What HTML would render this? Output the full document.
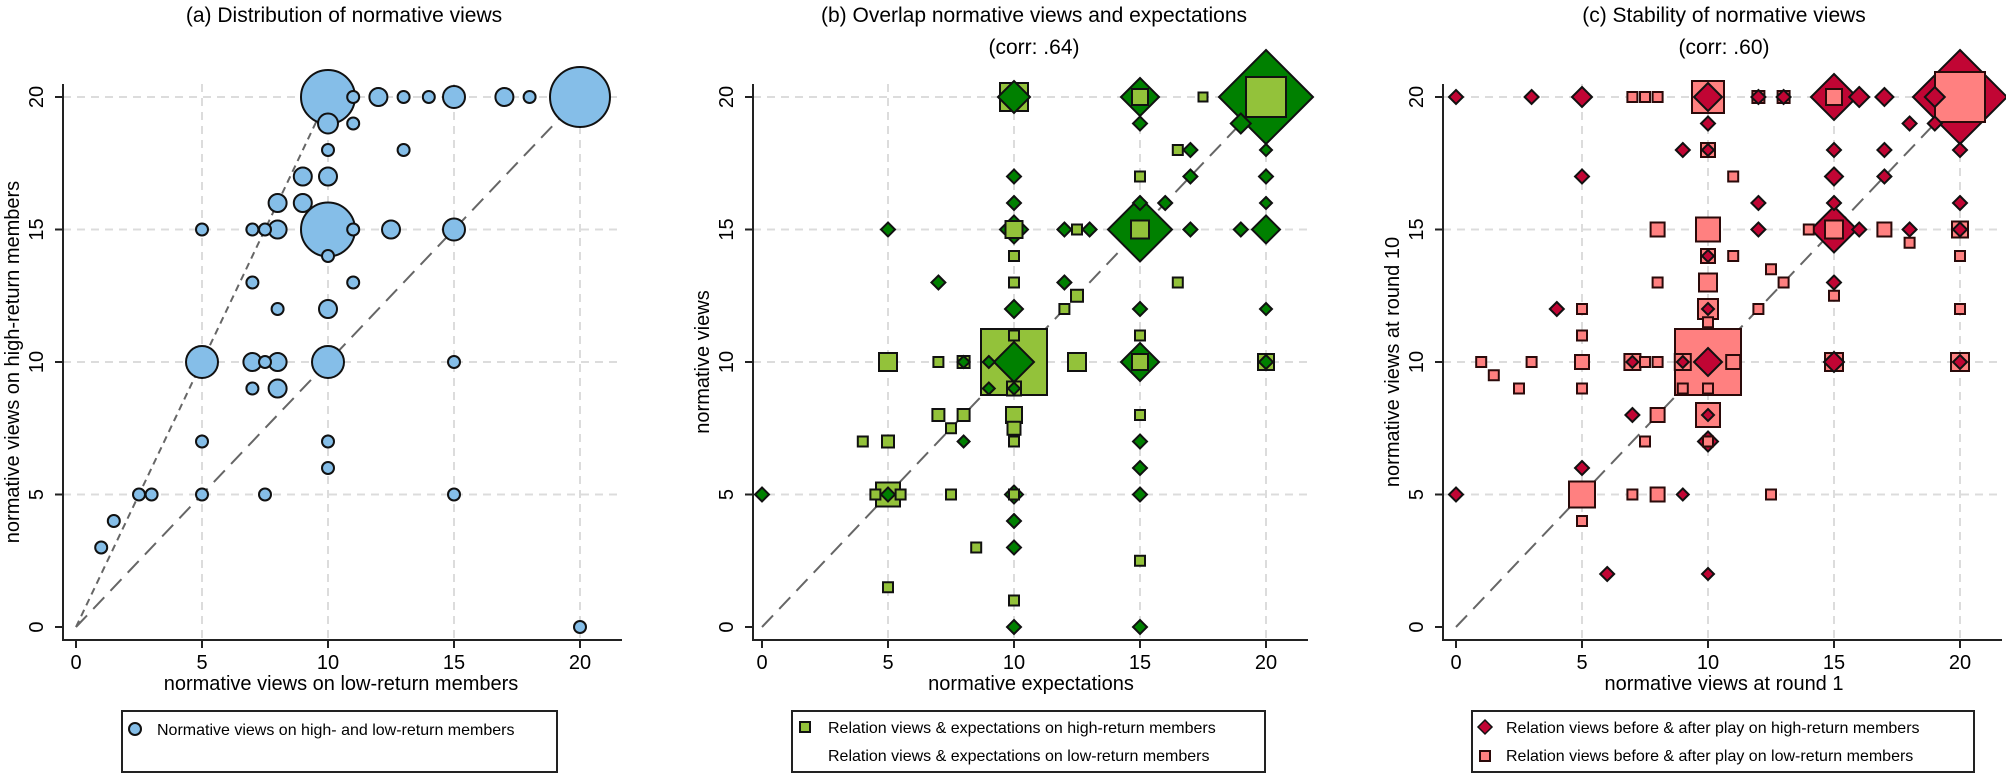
<!DOCTYPE html>
<html><head><meta charset="utf-8"><style>
html,body{margin:0;padding:0;background:#fff;}
svg{display:block;font-family:"Liberation Sans",Arial,sans-serif;}
</style></head><body>
<svg id="s" width="2006" height="774" viewBox="0 0 2006 774" xmlns="http://www.w3.org/2000/svg">
<rect width="2006" height="774" fill="#fff"/>
<g id="bg"></g>
<g id="mk"></g>
<g id="ax" stroke="#222" stroke-width="2" fill="none"></g>
<g font-size="21" text-anchor="middle" fill="#000">
<text x="344" y="22">(a) Distribution of normative views</text>
<text x="1034" y="22">(b) Overlap normative views and expectations</text>
<text x="1034" y="54">(corr: .64)</text>
<text x="1724" y="22">(c) Stability of normative views</text>
<text x="1724" y="54">(corr: .60)</text>
</g>
<g font-size="20" text-anchor="middle" fill="#000">
<text x="341" y="690">normative views on low-return members</text>
<text x="1031" y="690">normative expectations</text>
<text x="1724" y="690">normative views at round 1</text>
<text transform="translate(19,362) rotate(-90)">normative views on high-return members</text>
<text transform="translate(709,362) rotate(-90)">normative views</text>
<text transform="translate(1399,362) rotate(-90)">normative views at round 10</text>
</g>
<g id="tl" font-size="20" text-anchor="middle" fill="#000"></g>
<g stroke="#222" stroke-width="2" fill="#fff">
<rect x="122" y="711" width="435" height="61"/>
<rect x="792" y="711" width="473" height="61"/>
<rect x="1472" y="711" width="502" height="61"/>
</g>
<g font-size="16" fill="#000">
<text x="157" y="735">Normative views on high- and low-return members</text>
<text x="828" y="733">Relation views &amp; expectations on high-return members</text>
<text x="828" y="761">Relation views &amp; expectations on low-return members</text>
<text x="1506" y="733">Relation views before &amp; after play on high-return members</text>
<text x="1506" y="761">Relation views before &amp; after play on low-return members</text>
</g>
<circle cx="135" cy="729" r="6" fill="#85bee8" stroke="#111" stroke-width="2"/>
<rect x="800" y="722" width="10" height="10" fill="#93c23a" stroke="#111" stroke-width="2"/>
<polygon points="1485,720 1492,727 1485,734 1478,727" fill="#c10534" stroke="#111" stroke-width="1.5"/>
<rect x="1480" y="751" width="10" height="10" fill="#ff8080" stroke="#2a0a0a" stroke-width="2"/>
</svg>
<script>
var NS="http://www.w3.org/2000/svg";
function el(p,t,a){var e=document.createElementNS(NS,t);for(var k in a)e.setAttribute(k,a[k]);p.appendChild(e);return e;}
var bg=document.getElementById('bg'),mk=document.getElementById('mk'),ax=document.getElementById('ax'),tl=document.getElementById('tl');
var X0=[76,762,1456],AXL=[63,753,1443];
var UX=25.2,UY=26.5,Y0=627,TOP=84,BOT=640;
function px(p,x){return X0[p]+x*UX;} function py(y){return Y0-y*UY;}
for(var p=0;p<3;p++){
 var R=X0[p]+546;
 for(var v=5;v<=20;v+=5){
  el(bg,'line',{x1:AXL[p],x2:R,y1:py(v),y2:py(v),stroke:'#dcdcdc','stroke-width':2,'stroke-dasharray':'8 6'});
  el(bg,'line',{x1:px(p,v),x2:px(p,v),y1:TOP,y2:BOT,stroke:'#dcdcdc','stroke-width':2,'stroke-dasharray':'8 6'});
 }
 el(bg,'line',{x1:px(p,0),y1:py(0),x2:px(p,20),y2:py(20),stroke:'#666','stroke-width':2,'stroke-dasharray':'16 9'});
 if(p==0) el(bg,'line',{x1:px(0,0),y1:py(0),x2:px(0,10),y2:py(20),stroke:'#666','stroke-width':2,'stroke-dasharray':'7 5'});
 el(ax,'line',{x1:AXL[p],y1:TOP,x2:AXL[p],y2:BOT+1});
 el(ax,'line',{x1:AXL[p]-1,y1:BOT,x2:R,y2:BOT});
 for(var v=0;v<=20;v+=5){
  el(ax,'line',{x1:AXL[p]-8,x2:AXL[p],y1:py(v),y2:py(v)});
  el(ax,'line',{x1:px(p,v),x2:px(p,v),y1:BOT,y2:BOT+8});
  var t=el(tl,'text',{x:px(p,v),y:669});t.textContent=v;
  var t2=el(tl,'text',{transform:'translate('+(AXL[p]-20)+','+py(v)+') rotate(-90)'});t2.textContent=v;
 }
}
var A=[[10,20,27],[11,20,6],[12,20,9],[13,20,6],[14,20,6],[15,20,11],[17,20,9],[18,20,6],[20,20,30],
[10,19,10],[11,19,6],[10,18,6],[13,18,6],[9,17,9],[10,17,9],[8,16,9],[9,16,9],
[5,15,6],[7,15,6],[7.5,15,6],[8,15,9],[10,15,27],[11,15,6],[12.5,15,9],[15,15,11],[10,14,6],[7,13,6],[11,13,6],
[8,12,6],[10,12,9],[5,10,16],[7,10,9],[7.5,10,6],[8,10,9],[10,10,16],[15,10,6],[7,9,6],[8,9,9],
[5,7,6],[10,7,6],[10,6,6],[2.5,5,6],[3,5,6],[5,5,6],[7.5,5,6],[15,5,6],[1.5,4,6],[1,3,6],[20,0,6]];
A.sort(function(a,b){return b[2]-a[2];});
A.forEach(function(d){el(mk,'circle',{cx:px(0,d[0]),cy:py(d[1]),r:d[2],fill:'#85bee8',stroke:'#111','stroke-width':2});});
var B=[[10,20,14,'S'],[10,20,16,'D'],[15,20,19,'D'],[15,20,8,'S'],[17.5,20,4.5,'S'],[20,20,47,'D'],[20,20,20,'S'],[19,19,10,'D'],
[15,19,7,'D'],[20,18,6,'D'],[16.5,18,5,'S'],[17,18,7,'D'],[10,17,7,'D'],[15,17,5,'S'],[17,17,7,'D'],[20,17,7,'D'],
[10,16,7,'D'],[15,16,7,'D'],[16,16,7,'D'],[20,16,6,'D'],
[5,15,7,'D'],[10,15,14,'D'],[10,15,8.5,'S'],[12,15,7,'D'],[12.5,15,5,'S'],[13,15,7,'D'],[15,15,32,'D'],[15,15,9,'S'],[17,15,7,'D'],[19,15,7,'D'],[20,15,14,'D'],
[10,14,5,'S'],[7,13,7,'D'],[10,13,5,'S'],[12,13,7,'D'],[16.5,13,5,'S'],[12.5,12.5,6,'S'],[10,12,9,'D'],[12,12,5,'S'],[15,12,7,'D'],[20,12,6,'D'],
[10,11,5,'S'],[15,11,5,'S'],
[5,10,9,'S'],[7,10,5,'S'],[8,10,6,'S'],[8,10,6,'D'],[9,10,6,'D'],[10,10,33,'S'],[10,10,20,'D'],[12.5,10,9,'S'],[15,10,19,'D'],[15,10,8,'S'],[20,10,8,'S'],[20,10,7,'D'],
[9,9,6,'D'],[10,9,7,'S'],[10,9,6,'D'],[7,8,6,'S'],[8,8,6,'S'],[10,8,8,'S'],[15,8,5,'S'],[10,7.5,6.5,'S'],[7.5,7.5,5,'S'],
[4,7,5,'S'],[5,7,6,'S'],[8,7,6,'D'],[10,7,5,'S'],[15,7,7,'D'],[15,6,7,'D'],
[0,5,7,'D'],[5,5,12,'S'],[4.5,5,5,'S'],[5.5,5,5,'S'],[5,5,7,'D'],[7.5,5,5,'S'],[10,5,9,'D'],[10,5,5,'S'],[15,5,7,'D'],
[10,4,7,'D'],[10,3,7,'D'],[8.5,3,5,'S'],[15,2.5,5,'S'],[5,1.5,5,'S'],[10,1,5,'S'],[10,0,7,'D'],[15,0,7,'D']];
var C=[[0,20,7,'D'],[3,20,7,'D'],[5,20,10,'D'],[7,20,5,'S'],[7.5,20,5,'S'],[8,20,5,'S'],[10,20,16,'S'],[10,20,14,'D'],[12,20,6,'S'],[12,20,7,'D'],[13,20,6,'S'],[13,20,7,'D'],
[15,20,23,'D'],[15,20,8,'S'],[16,20,10,'D'],[17,20,9,'D'],[20,20,47,'D'],[20,20,25,'S'],[19,20,10,'D'],
[10,19,7,'D'],[18,19,7,'D'],[19,19,7,'D'],[9,18,7,'D'],[10,18,7,'S'],[10,18,6,'D'],[15,18,7,'D'],[17,18,7,'D'],[20,18,7,'D'],
[5,17,7,'D'],[11,17,5,'S'],[15,17,9,'D'],[17,17,7,'D'],[12,16,7,'D'],[15,16,7,'D'],[20,16,7,'D'],
[8,15,7,'S'],[10,15,12,'S'],[12,15,7,'D'],[14,15,5,'S'],[15,15,23,'D'],[15,15,9,'S'],[16,15,7,'D'],[17,15,7,'S'],[18,15,7,'D'],[20,15,8,'S'],[20,15,7,'D'],
[18,14.5,5,'S'],[10,14,7,'S'],[10,14,6,'D'],[11,14,5,'S'],[20,14,5,'S'],[12.5,13.5,5,'S'],[8,13,5,'S'],[10,13,9,'S'],[13,13,5,'S'],[15,13,7,'D'],[15,12.5,5,'S'],
[4,12,7,'D'],[5,12,5,'S'],[10,12,10,'S'],[10,12,6,'D'],[12,12,5,'S'],[20,12,5,'S'],[10,11.5,5,'S'],[5,11,5,'S'],
[1,10,5,'S'],[3,10,5,'S'],[5,10,7,'S'],[7,10,8,'S'],[7,10,6,'D'],[7.5,10,5,'S'],[8,10,5,'S'],[9,10,8,'S'],[9,10,6,'D'],[10,10,33,'S'],[10,10,14,'D'],[11,10,7,'S'],[15,10,9,'S'],[15,10,10,'D'],[20,10,9,'S'],[20,10,7,'D'],
[1.5,9.5,5,'S'],[2.5,9,5,'S'],[5,9,5,'S'],[9,9,5,'S'],[10,9,5,'S'],[7,8,7,'D'],[8,8,7,'S'],[10,8,12,'S'],[10,8,6,'D'],[7.5,7,5,'S'],[10,7,10,'D'],[10,7,5,'S'],
[5,6,7,'D'],[0,5,7,'D'],[5,5,13,'S'],[7,5,5,'S'],[8,5,7,'S'],[9,5,6,'D'],[12.5,5,5,'S'],[5,4,5,'S'],[6,2,7,'D'],[10,2,6,'D']];
function draw(p,L,sf,df,sc){
 L.sort(function(a,b){var ea=a[3]=='D'?a[2]*0.75:a[2],eb=b[3]=='D'?b[2]*0.75:b[2];return eb-ea;});
 L.forEach(function(d){var x=px(p,d[0]),y=py(d[1]),h=d[2];
  if(d[3]=='S')el(mk,'rect',{x:x-h,y:y-h,width:2*h,height:2*h,fill:sf,stroke:sc,'stroke-width':2});
  else el(mk,'polygon',{points:x+','+(y-h)+' '+(x+h)+','+y+' '+x+','+(y+h)+' '+(x-h)+','+y,fill:df,stroke:'#111','stroke-width':2});});
}
draw(1,B,'#93c23a','#008000','#111');
draw(2,C,'#ff8080','#c10534','#2a0a0a');
</script>
</body></html>
